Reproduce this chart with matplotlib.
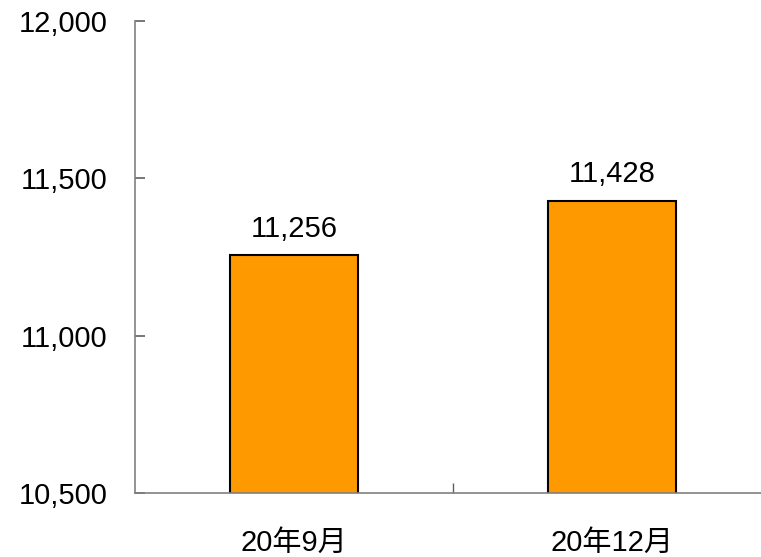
import matplotlib
matplotlib.use('Agg')
import matplotlib.pyplot as plt

plt.rcParams['font.family'] = ['Liberation Sans', 'Noto Sans CJK JP', 'DejaVu Sans']

# 値は図から読み取り
kategorije = ['20年9月', '20年12月']
vrednosti = [11256, 11428]
y_ticks = [10500, 11000, 11500, 12000]

velikost = 21

fig = plt.figure(figsize=(7.61, 5.57), dpi=100)
ax = fig.add_axes([135/761, 64/557, 636/761, 472/557])

x = list(range(len(kategorije)))
ax.bar(x, vrednosti, width=0.4, color='#FF9900', edgecolor='black',
       linewidth=1.5, zorder=3)

for xi, v in zip(x, vrednosti):
    ax.text(xi, v + 40, f'{v:,}', ha='center', va='bottom', fontsize=velikost)

ax.set_xlim(-0.5, 1.5)
ax.set_ylim(10500, 12000)
ax.set_yticks(y_ticks)
ax.set_yticklabels([f'{t:,}' for t in y_ticks])
ax.set_xticks(x)
ax.set_xticklabels(kategorije)
ax.set_xticks([0.5], minor=True)

ax.spines['top'].set_visible(False)
ax.spines['right'].set_visible(False)
for s in ('left', 'bottom'):
    ax.spines[s].set_color('#808080')
    ax.spines[s].set_linewidth(1.2)
    ax.spines[s].set_zorder(4)

ax.tick_params(axis='y', direction='in', length=7, width=1.2, color='#606060',
               labelsize=velikost, pad=20)
ax.tick_params(axis='x', which='major', length=0, labelsize=velikost, pad=26)
ax.tick_params(axis='x', which='minor', direction='in', length=7, width=1,
               color='#606060')

fig.savefig('out.png', dpi=100)
